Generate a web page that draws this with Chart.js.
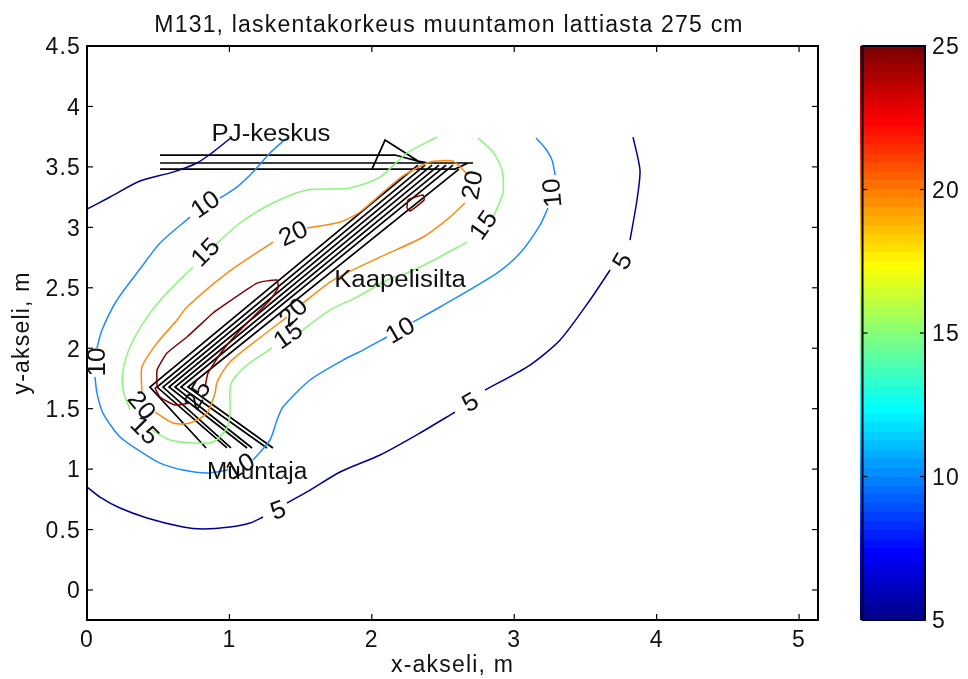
<!DOCTYPE html>
<html>
<head>
<meta charset="utf-8">
<script src="https://cdn.jsdelivr.net/npm/chart.js@4/dist/chart.umd.min.js"></script>
<style>
  html, body { margin: 0; background: #fff; }
  #wrap { position: relative; width: 968px; height: 679px; }
  #plot { position: absolute; left: 0; top: 0; }
  #bar { position: absolute; left: 840px; top: 0; }
</style>
</head>
<body>
<div id="wrap">
  <canvas id="plot" width="840" height="679"></canvas>
  <canvas id="bar" width="128" height="679"></canvas>
</div>
<script>
const TITLE = "M131, laskentakorkeus muuntamon lattiasta 275 cm";
const X_LABEL = "x-akseli, m";
const Y_LABEL = "y-akseli, m";
const X_TICKS = [0, 1, 2, 3, 4, 5];
const Y_TICKS = [0, 0.5, 1, 1.5, 2, 2.5, 3, 3.5, 4, 4.5];
const BAR_TICKS = [5, 10, 15, 20, 25];

// contour levels; null = gap for an inline label
const level5 = [
  [0,3.151],[.162,3.251],[.372,3.383],[.604,3.457],[.772,3.532],[.885,3.623],[1.018,3.747], null,
  [0,.852],[.091,.769],[.232,.678],[.421,.596],[.674,.521],[.815,.505],[1.004,.521],[1.145,.554],[1.236,.604], null,
  [1.404,.72],[1.545,.811],[1.777,.976],[2.058,1.117],[2.338,1.299],[2.584,1.472], null,
  [2.795,1.654],[3.111,1.861],[3.322,2.068],[3.532,2.399],[3.673,2.647], null,
  [3.813,2.895],[3.862,3.226],[3.883,3.474],[3.834,3.747],
];
const level10 = [
  [1.404,3.739],[1.285,3.615],[1.166,3.457],[1.053,3.333],[.934,3.242], null,
  [.723,3.085],[.513,2.87],[.372,2.655],[.211,2.399],[.105,2.151],[.07,2.002], null,
  [.056,1.762],[.07,1.629],[.112,1.464],[.232,1.266],[.393,1.133],[.513,1.05],[.674,.993],[.843,.968],[.99,.993], null,
  [1.166,1.075],[1.285,1.241],[1.334,1.406],[1.376,1.514],[1.566,1.737],[1.798,1.902],[1.938,1.985],[2.107,2.093], null,
  [2.289,2.217],[2.479,2.341],[2.879,2.622],[3.041,2.787],[3.181,3.019],[3.237,3.16], null,
  [3.287,3.433],[3.265,3.557],[3.216,3.656],[3.153,3.739],
];
const level15 = [
  [2.458,3.747],[2.247,3.615],[2.058,3.416],[1.847,3.325],[1.545,3.309],[1.306,3.201],[1.074,3.036],[.885,2.837], null,
  [.744,2.672],[.534,2.423],[.393,2.208],[.302,2.01],[.253,1.82],[.253,1.654],[.302,1.489], null,
  [.456,1.323],[.583,1.241],[.744,1.216],[.885,1.224],[.983,1.34],[1.004,1.464],[1.004,1.654],[1.025,1.737],[1.124,1.861],[1.299,2.002], null,
  [1.496,2.134],[1.706,2.316],[1.896,2.423],[2.107,2.564],[2.247,2.622],[2.409,2.713],[2.669,2.878], null,
  [2.851,3.085],[2.921,3.284],[2.914,3.474],[2.851,3.623],[2.746,3.739],
];
const level20 = [
  [.386,1.629],[.386,1.845],[.492,2.043],[.632,2.233],[.702,2.341],[.983,2.622],[1.306,2.878], null,
  [1.545,2.994],[1.777,3.044],[1.917,3.127],[2.198,3.408],[2.388,3.532],[2.458,3.548],[2.57,3.548],[2.676,3.433], null,
  [2.654,3.201],[2.549,3.085],[2.36,2.92],[2.058,2.754],[1.728,2.564],[1.517,2.374], null,
  [1.404,2.258],[1.194,2.068],[1.004,1.886],[.913,1.72],[.899,1.629],[.843,1.464],[.723,1.381],[.604,1.381],[.478,1.472],
];
const level25 = [
  [.492,1.679],[.492,1.82],[.562,1.96],[.702,2.093],[.885,2.291],[.934,2.333],[1.194,2.539],[1.334,2.564],[1.341,2.498],
  [1.285,2.399],[1.096,2.175],[.955,1.985],[.85,1.795],[.829,1.679], null,
  [.723,1.547],[.618,1.53],[.513,1.596],[.478,1.671],[.492,1.679], null,
  [2.247,3.16],[2.254,3.226],[2.36,3.267],[2.367,3.226],[2.268,3.135],[2.247,3.16],
];

// black layout sketch: PJ-keskus box and the cable bridge
const pjOutline = [
  [.513,3.598],[2.163,3.598],[2.324,3.548],[2.395,3.532], null,
  [.513,3.532],[2.711,3.532], null,
  [.513,3.482],[2.584,3.482],[2.676,3.532], null,
  [2.001,3.482],[2.093,3.722],[2.324,3.548],
];
const bridgeApexX = [.442, .492, .534, .576, .618, .66, .709];
const bridgeLowX = [.836, .983, 1.011, 1.124, 1.159, 1.264, 1.306];
const bridgeTopX = [2.324, 2.374, 2.423, 2.472, 2.521, 2.57, 2.612];
const bridgeTopY = [3.515, 3.515, 3.515, 3.515, 3.515, 3.515, 3.482];
const bridgeApexY = 1.679;
const bridgeLowY = 1.175;

// [text, x, y, rotation deg]
const contourLabels = [
  ["10", .829, 3.193, -35], ["15", .829, 2.796, -45], ["20", 1.447, 2.953, -25],
  ["20", 2.704, 3.35, -80], ["15", 2.781, 3.019, -55], ["10", 3.265, 3.284, -95],
  ["5", 3.757, 2.721, -60], ["5", 2.69, 1.555, -30], ["5", 1.341, .662, -20],
  ["10", 2.198, 2.151, -30], ["15", 1.411, 2.109, -35], ["20", 1.447, 2.299, -45],
  ["10", .07, 1.886, -90], ["20", .386, 1.53, 50], ["15", .407, 1.323, 45],
  ["25", .772, 1.613, -60], ["10", 1.074, 1.026, -30],
];
// [text, x, y, horizontal stretch]
const placeLabels = [
  ["PJ-keskus", 1.292, 3.78, 1.12], ["Kaapelisilta", 2.198, 2.572, 1.12], ["Muuntaja", 1.194, .984, 1.06],
];

const JET = [
  "#00008F","#00009F","#0000AF","#0000BF","#0000CF","#0000DF","#0000EF","#0000FF",
  "#000FFF","#001FFF","#002FFF","#003FFF","#004FFF","#005FFF","#006FFF","#007FFF",
  "#008FFF","#009FFF","#00AFFF","#00BFFF","#00CFFF","#00DFFF","#00EFFF","#00FFFF",
  "#0FFFEF","#1FFFDF","#2FFFCF","#3FFFBF","#4FFFAF","#5FFF9F","#6FFF8F","#7FFF7F",
  "#8FFF6F","#9FFF5F","#AFFF4F","#BFFF3F","#CFFF2F","#DFFF1F","#EFFF0F","#FFFF00",
  "#FFEF00","#FFDF00","#FFCF00","#FFBF00","#FFAF00","#FF9F00","#FF8F00","#FF7F00",
  "#FF6F00","#FF5F00","#FF4F00","#FF3F00","#FF2F00","#FF1F00","#FF0F00","#FF0000",
  "#EF0000","#DF0000","#CF0000","#BF0000","#AF0000","#9F0000","#8F0000","#800000",
];

const FONT = "'Liberation Sans', Arial, sans-serif";
const TEXT_SIZE = 23;
const TEXT_SPACING = "1.2px";   // reference glyphs are stretched wider than the font

const toXY = (list) => list.map((p) => p ? { x: p[0], y: p[1] } : { x: null, y: null });

function lineSet(label, list, color, width, tension) {
  return {
    label, data: toXY(list), borderColor: color, borderWidth: width,
    showLine: true, pointRadius: 0, spanGaps: false, tension,
  };
}

function bridgeLines() {
  const out = [];
  bridgeApexX.forEach((ax, i) => {
    out.push([bridgeTopX[i], bridgeTopY[i]], [ax, bridgeApexY], [bridgeLowX[i], bridgeLowY], null);
  });
  return out;
}

function wideText(ctx, text, x, y, rot, size, stretch) {
  ctx.save();
  ctx.letterSpacing = "0px";
  ctx.translate(x, y);
  ctx.rotate(rot * Math.PI / 180);
  ctx.scale(stretch, 1);
  ctx.font = `${size}px ${FONT}`;
  ctx.fillStyle = "#111";
  ctx.textAlign = "center";
  ctx.textBaseline = "middle";
  ctx.fillText(text, 0, 1.5);
  ctx.restore();
}

const spacing = {
  id: "spacing",
  beforeDraw(chart) { chart.ctx.letterSpacing = TEXT_SPACING; },
};

function mark(ctx, x1, y1, x2, y2) {
  ctx.beginPath();
  ctx.moveTo(x1, y1);
  ctx.lineTo(x2, y2);
  ctx.stroke();
}

const plotDecor = {
  id: "plotDecor",
  afterLayout(chart) {
    // title sits slightly left of the axes centre in the reference
    chart.titleBlock.left -= 7;
  },
  afterDatasetsDraw(chart) {
    const { ctx, chartArea: a, scales: { x, y } } = chart;
    ctx.save();
    ctx.strokeStyle = "#000";
    ctx.lineWidth = 1.2;
    x.ticks.forEach((t) => {
      const p = x.getPixelForValue(t.value);
      mark(ctx, p, a.bottom, p, a.bottom - 6);
      mark(ctx, p, a.top, p, a.top + 6);
    });
    y.ticks.forEach((t) => {
      const p = y.getPixelForValue(t.value);
      mark(ctx, a.left, p, a.left + 6, p);
      mark(ctx, a.right, p, a.right - 6, p);
    });
    ctx.lineWidth = 2;
    ctx.strokeRect(a.left, a.top, a.right - a.left, a.bottom - a.top);
    ctx.restore();
    contourLabels.forEach(([t, vx, vy, rot]) =>
      wideText(ctx, t, x.getPixelForValue(vx), y.getPixelForValue(vy), rot, 25, 1.05));
    placeLabels.forEach(([t, vx, vy, st]) =>
      wideText(ctx, t, x.getPixelForValue(vx), y.getPixelForValue(vy), 0, 23, st));
  },
};

const textStyle = { family: FONT, size: TEXT_SIZE };

new Chart(document.getElementById("plot"), {
  type: "scatter",
  data: {
    datasets: [
      lineSet("5", level5, "#00008F", 1.5, 0.25),
      lineSet("10", level10, "#1E8CFF", 1.5, 0.25),
      lineSet("15", level15, "#8CF57C", 1.5, 0.25),
      lineSet("20", level20, "#FF8A10", 1.5, 0.25),
      lineSet("25", level25, "#800000", 1.5, 0.15),
      lineSet("PJ-keskus", pjOutline, "#000", 1.7, 0),
      lineSet("Kaapelisilta", bridgeLines(), "#000", 1.7, 0),
    ],
  },
  plugins: [spacing, plotDecor],
  options: {
    responsive: false, animation: false,
    layout: { padding: { left: 0, right: 22, top: 0, bottom: 0 } },
    scales: {
      x: {
        type: "linear", min: 0, max: 5.133,
        afterBuildTicks: (s) => { s.ticks = X_TICKS.map((value) => ({ value })); },
        afterFit: (s) => { s.height = 59; },
        grid: { display: false, drawTicks: false },
        border: { display: false },
        ticks: { font: textStyle, color: "#111", padding: 7, maxRotation: 0, callback: (v) => String(v) },
        title: { display: true, text: X_LABEL, font: textStyle, color: "#111", padding: { top: -4, bottom: 0 } },
      },
      y: {
        type: "linear", min: -0.248, max: 4.5,
        afterBuildTicks: (s) => { s.ticks = Y_TICKS.map((value) => ({ value })); },
        afterFit: (s) => { s.width = 87; },
        grid: { display: false, drawTicks: false },
        border: { display: false },
        ticks: { font: textStyle, color: "#111", padding: 6, labelOffset: 2, callback: (v) => String(v) },
        title: { display: true, text: Y_LABEL, font: textStyle, color: "#111", padding: { top: 9, bottom: 0 } },
      },
    },
    plugins: {
      legend: { display: false },
      tooltip: { enabled: false },
      title: {
        display: true, text: TITLE, color: "#111", fullSize: false,
        font: { family: FONT, size: TEXT_SIZE, weight: "normal" },
        padding: { top: 12, bottom: 6.4 },
      },
    },
  },
});

const barDecor = {
  id: "barDecor",
  afterDatasetsDraw(chart) {
    const { ctx, chartArea: a, scales: { y } } = chart;
    ctx.save();
    ctx.strokeStyle = "#000";
    ctx.lineWidth = 1.2;
    const left = a.left + 2.5;   // axis line sits just inside the colour image
    y.ticks.forEach((t) => {
      const p = y.getPixelForValue(t.value);
      mark(ctx, left, p, left + 5, p);
      mark(ctx, a.right, p, a.right - 5, p);
    });
    ctx.lineWidth = 2;
    ctx.strokeStyle = "#000020";
    ctx.strokeRect(left, a.top, a.right - left, a.bottom - a.top);
    ctx.restore();
  },
};

new Chart(document.getElementById("bar"), {
  type: "bar",
  data: {
    labels: ["level"],
    datasets: JET.map((c, i) => ({
      data: [[5 + i * 20 / JET.length, 5 + (i + 1) * 20 / JET.length]],
      backgroundColor: c, borderWidth: 0,
      barPercentage: 1, categoryPercentage: 1, grouped: false,
    })),
  },
  plugins: [spacing, barDecor],
  options: {
    responsive: false, animation: false,
    layout: { padding: { left: 20, right: 0, top: 46, bottom: 59 } },
    scales: {
      x: { display: false },
      y: {
        position: "right", min: 5, max: 25,
        afterBuildTicks: (s) => { s.ticks = BAR_TICKS.map((value) => ({ value })); },
        afterFit: (s) => { s.width = 43; },
        grid: { display: false, drawTicks: false },
        border: { display: false },
        ticks: { font: textStyle, color: "#111", padding: 7, labelOffset: 2 },
      },
    },
    plugins: { legend: { display: false }, tooltip: { enabled: false } },
  },
});
</script>
</body>
</html>
